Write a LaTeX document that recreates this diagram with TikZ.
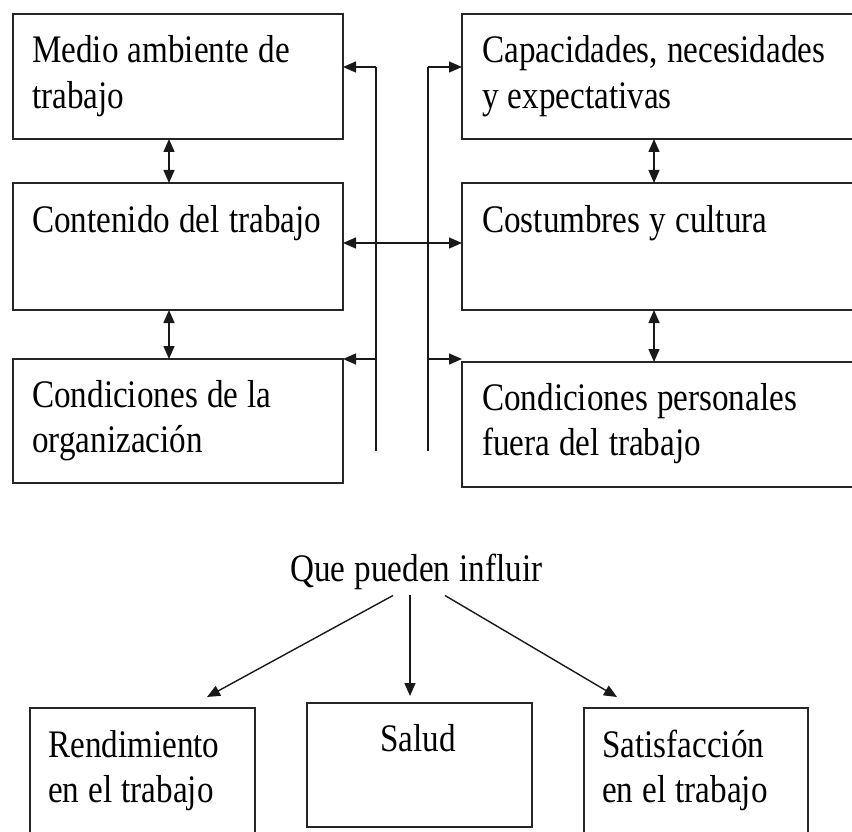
\documentclass[tikz,border=0pt]{standalone}
\usepackage{fontspec}
\setmainfont{Liberation Serif}[FakeStretch=0.85,WordSpace=1.1]
\usetikzlibrary{arrows.meta,positioning}
\newcommand{\boxfont}{\fontsize{39}{45.5}\selectfont}
\tikzset{
  caja/.style={draw=black!85,line width=1.7pt,inner sep=0pt,outer sep=0pt,anchor=north west},
  texto/.style={anchor=base west,inner sep=0pt,text width=400pt,align=flush left,font=\boxfont},
  flecha/.style={line width=1.4pt,draw=black!90}
}

\begin{document}
\begin{tikzpicture}[x=1pt,y=-1pt,>={Triangle[length=13pt,width=11pt]}]
\useasboundingbox (0,0) rectangle (852,832);
\clip (0,0) rectangle (852,832);
\node[caja,minimum width=330pt,minimum height=125pt] (medio) at (13,14) {};
\node[caja,minimum width=330pt,minimum height=127pt] (cont) at (13,183) {};
\node[caja,minimum width=330pt,minimum height=124pt] (cond) at (13,359) {};
\node[caja,minimum width=420pt,minimum height=125pt] (capac) at (462,14) {};
\node[caja,minimum width=420pt,minimum height=127pt] (cost) at (462,183) {};
\node[caja,minimum width=420pt,minimum height=125pt] (pers) at (462,362) {};
\node[texto] (mediot) at ([xshift=19pt,yshift=-49pt]medio.north west) {Medio ambiente de\\trabajo};
\node[texto] (contt) at ([xshift=19pt,yshift=-50pt]cont.north west) {Contenido del trabajo};
\node[texto] (condt) at ([xshift=19pt,yshift=-48pt]cond.north west) {Condiciones de la\\organización};
\node[texto] (capact) at ([xshift=20pt,yshift=-49pt]capac.north west) {Capacidades, necesidades\\y expectativas};
\node[texto] (costt) at ([xshift=20pt,yshift=-50pt]cost.north west) {Costumbres y cultura};
\node[texto] (perst) at ([xshift=20pt,yshift=-48pt]pers.north west) {Condiciones personales\\fuera del trabajo};
\draw[flecha,<->] ([xshift=-9pt]medio.south) -- ([xshift=-9pt]cont.north);
\draw[flecha,<->] ([xshift=-9pt]cont.south) -- ([xshift=-9pt]cond.north);
\draw[flecha,<->] ([xshift=-18pt]capac.south) -- ([xshift=-18pt]cost.north);
\draw[flecha,<->] ([xshift=-18pt]cost.south) -- ([xshift=-18pt]pers.north);
\coordinate (izq1) at (376,67);
\coordinate (izq3) at (376,359);
\coordinate (izq4) at (376,451);
\coordinate (der1) at (428,67);
\coordinate (der3) at (428,359);
\coordinate (der4) at (428,451);
\coordinate (eje) at (402,243);
\draw[flecha] (izq1) -- (izq4);
\draw[flecha] (der1) -- (der4);
\draw[flecha,->] (izq1) -- (izq1 -| medio.east);
\draw[flecha,->] (der1) -- (der1 -| capac.west);
\draw[flecha,<->] (eje -| cont.east) -- (eje -| cost.west);
\draw[flecha,->] (izq3) -- (izq3 -| cond.east);
\draw[flecha,->] (der3) -- (der3 -| pers.west);
\node[font=\boxfont,inner sep=0pt,anchor=base] (influir) at (416.5,581) {Que pueden influir};
\node[caja,minimum width=225pt,minimum height=150pt] (rend) at (30,708) {};
\node[caja,minimum width=225pt,minimum height=124pt] (salud) at (307,703) {};
\node[caja,minimum width=224pt,minimum height=150pt] (satis) at (584,708) {};
\node[texto] (rendt) at ([xshift=18pt,yshift=-49pt]rend.north west) {Rendimiento\\en el trabajo};
\node[font=\boxfont,inner sep=0pt,anchor=base] (saludt) at ([xshift=-1.5pt,yshift=-48pt]salud.north) {Salud};
\node[texto] (satist) at ([xshift=18pt,yshift=-49pt]satis.north west) {Satisfacción\\en el trabajo};
\draw[flecha,->] ([xshift=-23.5pt,yshift=-6pt]influir.south) -- ([xshift=64.5pt,yshift=11pt]rend.north);
\draw[flecha,->] ([xshift=-6.5pt,yshift=-5pt]influir.south) -- ([xshift=-9.5pt,yshift=7pt]salud.north);
\draw[flecha,->] ([xshift=28.5pt,yshift=-6pt]influir.south) -- ([xshift=-79pt,yshift=11pt]satis.north);
\end{tikzpicture}
\end{document}
